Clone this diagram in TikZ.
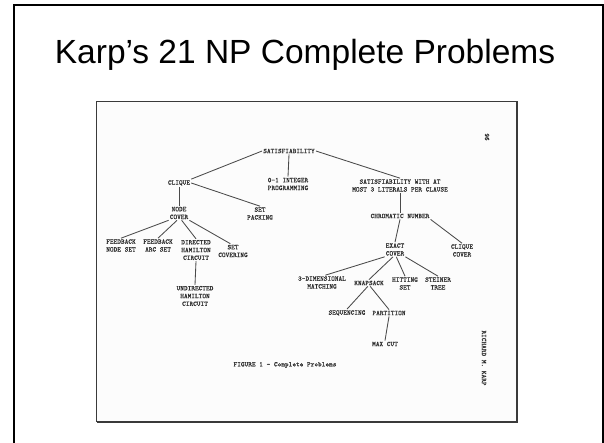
\documentclass[tikz,border=0pt]{standalone}
\usepackage{fontspec}
\newfontfamily\titlefont{Liberation Sans}
\newfontfamily\typewriter[FakeBold=0.6]{lmmono10-regular.otf}
\definecolor{scantext}{HTML}{2E2E2E}
\definecolor{scanline}{HTML}{4A4A4A}
\definecolor{scanframe}{HTML}{3a3a3a}
\definecolor{paper}{HTML}{FCFCFC}
\begin{document}
\begin{tikzpicture}[x=1pt,y=-1pt,
  prob/.style={font=\typewriter\fontsize{7}{7.8}\selectfont, text=scantext, align=center, inner sep=1pt},
  link/.style={draw=scanline, line width=0.85pt},
  slidetitle/.style={font=\titlefont\fontsize{33.5}{36}\selectfont, inner sep=0pt, anchor=base}]
\useasboundingbox (0,0) rectangle (604,443);
\clip (0,0) rectangle (604,443);
\fill[white] (0,0) rectangle (604,443);

% slide frame (its lower edge runs past the page)
\draw[black, line width=2pt] (14.3,5) rectangle (602.5,460);

% slide title
\node[slidetitle] (title) at (305,64) {Karp’s 21 NP Complete Problems};

% scanned page
\fill[paper] (96.5,101.5) rectangle (516.5,421.5);
\draw[scanframe, line width=2pt] (96.5,421.5) -- (516.5,421.5) -- (516.5,101.5);
\draw[scanframe, line width=1.1pt] (96.5,421.5) -- (96.5,101.5) -- (516.5,101.5);

% problems
\node[prob] (sat)      at (289,151)   {SATISFIABILITY};
\node[prob] (ilp)      at (288,184)   {0-1 INTEGER\\PROGRAMMING};
\node[prob] (sat3)     at (400,185.5) {SATISFIABILITY WITH AT\\MOST 3 LITERALS PER CLAUSE};
\node[prob] (clique)   at (179,183)   {CLIQUE};
\node[prob] (nodecov)  at (179,213)   {NODE\\COVER};
\node[prob] (setpack)  at (260,213.5) {SET\\PACKING};
\node[prob] (fns)      at (121,245.5) {FEEDBACK\\NODE SET};
\node[prob] (fas)      at (158,245.5) {FEEDBACK\\ARC SET};
\node[prob] (dhc)      at (196,250)   {DIRECTED\\HAMILTON\\CIRCUIT};
\node[prob] (setcov)   at (233,251)   {SET\\COVERING};
\node[prob] (uhc)      at (195,296)   {UNDIRECTED\\HAMILTON\\CIRCUIT};
\node[prob] (chrom)    at (400,216)   {CHROMATIC NUMBER};
\node[prob] (exact)    at (395,249.5) {EXACT\\COVER};
\node[prob] (cliqcov)  at (462,250.5) {CLIQUE\\COVER};
\node[prob] (tdm)      at (322,282.5) {3-DIMENSIONAL\\MATCHING};
\node[prob] (knap)     at (369,283)   {KNAPSACK};
\node[prob] (hit)      at (405,283.5) {HITTING\\SET};
\node[prob] (steiner)  at (438,283.5) {STEINER\\TREE};
\node[prob] (seq)      at (347,313)   {SEQUENCING};
\node[prob] (part)     at (389,313)   {PARTITION};
\node[prob] (maxcut)   at (385,344)   {MAX CUT};

% caption, author and page number
\node[prob] (caption) at (285,365) {FIGURE 1 - Complete Problems};
\node[prob, rotate=-90] (author) at (484,358) {RICHARD M. KARP};
\node[prob, rotate=-90] (page) at (487,137) {96};

% reductions
\draw[link] (sat.west) -- (clique.north east);
\draw[link] (sat.south) -- (ilp.north);
\draw[link] (sat.east) -- (sat3.north);
\draw[link] (clique.south) -- (nodecov.north);
\draw[link] (clique.east) -- (setpack.north);
\draw[link] (nodecov.south west) -- (fns.north);
\draw[link] (nodecov.-105) -- (fas.north);
\draw[link] (nodecov.-70) -- (dhc.north);
\draw[link] (nodecov.south east) -- (setcov.110);
\draw[link] (dhc.south) -- (uhc.north);
\draw[link] (sat3.south) -- (chrom.north);
\draw[link] (chrom.south) -- (exact.north);
\draw[link] (chrom.south east) -- (cliqcov.north);
\draw[link] (exact.south west) -- (tdm.65);
\draw[link] (exact.-105) -- (knap.north);
\draw[link] (exact.-80) -- (hit.north);
\draw[link] (exact.south east) -- (steiner.north);
\draw[link] (knap.-110) -- (seq.north);
\draw[link] (knap.-70) -- (part.north);
\draw[link] (part.south) -- (maxcut.north);
\end{tikzpicture}
\end{document}
